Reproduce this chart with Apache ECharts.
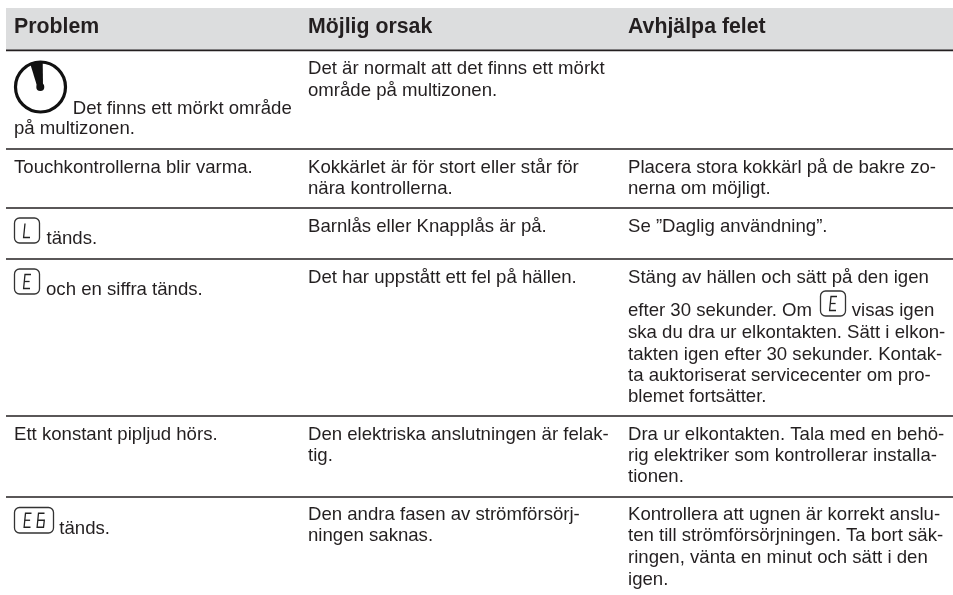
<!DOCTYPE html>
<html><head><meta charset="utf-8">
<style>html,body{margin:0;padding:0;background:#fff}#c{width:953px;height:595px}</style>
<script src="https://cdn.jsdelivr.net/npm/echarts@6/dist/echarts.min.js"></script>
</head><body><div id="c"></div>
<script>
const headers = ["Problem", "Möjlig orsak", "Avhjälpa felet"];
const problems = [
  ["Det finns ett mörkt område", "på multizonen."],
  ["Touchkontrollerna blir varma."],
  ["tänds."],
  ["och en siffra tänds."],
  ["Ett konstant pipljud hörs."],
  ["tänds."]
];
const causes = [
  ["Det är normalt att det finns ett mörkt", "område på multizonen."],
  ["Kokkärlet är för stort eller står för", "nära kontrollerna."],
  ["Barnlås eller Knapplås är på."],
  ["Det har uppstått ett fel på hällen."],
  ["Den elektriska anslutningen är felak-", "tig."],
  ["Den andra fasen av strömförsörj-", "ningen saknas."]
];
const remedies = [
  [],
  ["Placera stora kokkärl på de bakre zo-", "nerna om möjligt."],
  ["Se ”Daglig användning”."],
  ["Stäng av hällen och sätt på den igen", "efter 30 sekunder. Om", "ska du dra ur elkontakten. Sätt i elkon-", "takten igen efter 30 sekunder. Kontak-", "ta auktoriserat servicecenter om pro-", "blemet fortsätter."],
  ["Dra ur elkontakten. Tala med en behö-", "rig elektriker som kontrollerar installa-", "tionen."],
  ["Kontrollera att ugnen är korrekt anslu-", "ten till strömförsörjningen. Ta bort säk-", "ringen, vänta en minut och sätt i den", "igen."]
];
const inlineAfterIcon = "visas igen";

// layout (baselines)
const FONT = '"Liberation Sans", Arial, sans-serif';
const FS = 18.6, HFS = 21.3, INK = '#231f20';
const colX = [14, 308, 628];
const ruleY = [50.4, 149, 208, 259, 416, 497];
const problemY = [[114, 134.3], [173.3], [244.3], [295], [440.7], [534]];
const causeY = [[74.7, 96], [173.3, 194.5], [232.7], [283.3], [440.7, 461.7], [520.7, 541.7]];
const remedyY = [[], [173.3, 194.5], [232.7], [283.3, 316.7, 338.3, 360, 381.7, 402.7], [440.7, 461.7, 482.7], [520.7, 541.7, 563.3, 585]];
const problemX = [[72.7, 14], [14], [46.5], [46], [14], [59.3]];

const g = [];
g.push({type:'rect', shape:{x:6,y:8,width:947,height:42}, style:{fill:'#dcddde'}});
ruleY.forEach(y => g.push({type:'line', shape:{x1:6,y1:y,x2:953,y2:y}, style:{stroke:'#231f20', lineWidth:1.6}}));
headers.forEach((t,i) => g.push({type:'text', x:colX[i], y:33.5-6.3, style:{text:t, fill:INK, font:'bold '+HFS+'px '+FONT, verticalAlign:'middle'}}));
function txt(t,x,y){ g.push({type:'text', x, y:y-5.5, style:{text:t, fill:INK, font:FS+'px '+FONT, verticalAlign:'middle'}}); }
problems.forEach((ls,r)=>ls.forEach((t,i)=>txt(t, problemX[r][i], problemY[r][i])));
causes.forEach((ls,r)=>ls.forEach((t,i)=>txt(t, colX[1], causeY[r][i])));
remedies.forEach((ls,r)=>ls.forEach((t,i)=>txt(t, colX[2], remedyY[r][i])));
txt(inlineAfterIcon, 851.7, 316.7);

// display icons: segment glyphs in an 8x14 cell
const glyphs = {
  L: [[[2,0],[0.6,14],[7,14]]],
  E: [[[8,0],[2,0],[0.6,14],[7,14]],[[1.3,7],[6.6,7]]],
  '6': [[[8,0],[2,0],[0.6,14],[7,14],[7.8,7],[1.3,7]]]
};
function icon(x,y,w,h,str){
  g.push({type:'rect', shape:{x,y,width:w,height:h,r:5}, style:{fill:'none',stroke:'#333',lineWidth:1.3}});
  const total = str.length*8 + (str.length-1)*5;
  const sx = x + (w-total)/2, sy = y + (h-14)/2;
  [...str].forEach((ch,i)=>{
    glyphs[ch].forEach(pl=>g.push({type:'polyline', shape:{points:pl.map(p=>[sx+i*13+p[0], sy+p[1]])}, style:{fill:'none',stroke:'#222',lineWidth:1.3}}));
  });
}
icon(14.5,218,25,25,'L');
icon(14.5,269,25,25,'E');
icon(14.5,507.5,39,25.5,'E6');
icon(820.5,291,25,25,'E');

// timer symbol
g.push({type:'circle', shape:{cx:40.5,cy:87,r:25}, style:{fill:'none',stroke:'#111',lineWidth:3.2}});
g.push({type:'polygon', shape:{points:[[30,63],[42.7,61.5],[43,86],[37,86]]}, style:{fill:'#111'}});
g.push({type:'circle', shape:{cx:40.3,cy:87,r:4}, style:{fill:'#111'}});

const chart = echarts.init(document.getElementById('c'), null, {renderer:'canvas'});
chart.setOption({animation:false, backgroundColor:'#fff', graphic:{elements:g}});
</script></body></html>
